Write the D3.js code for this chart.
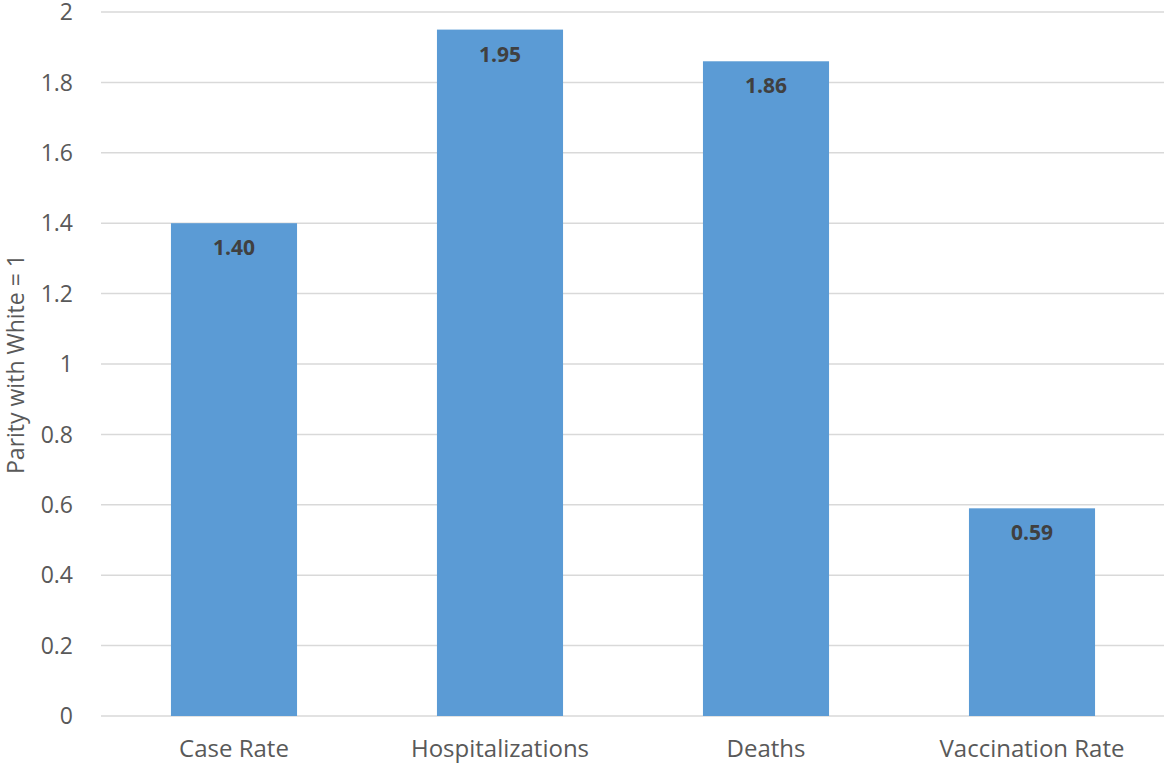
<!DOCTYPE html>
<html><head><meta charset="utf-8">
<script src="https://cdn.jsdelivr.net/npm/d3@7"></script>
<style>body{margin:0;background:#fff;} svg{display:block;}</style>
</head><body><svg id="c" width="1164" height="765"></svg>
<script>
const categories = ["Case Rate", "Hospitalizations", "Deaths", "Vaccination Rate"];
const values = [1.40, 1.95, 1.86, 0.59];
const yTicks = [0, 0.2, 0.4, 0.6, 0.8, 1, 1.2, 1.4, 1.6, 1.8, 2];
const yTitle = "Parity with White = 1";

const svg = d3.select("#c");
const font = "'Open Sans', 'Liberation Sans', sans-serif";
const x = d3.scaleBand().domain(categories).range([101, 1165]).paddingInner(0.526).paddingOuter(0.263);
const y = d3.scaleLinear().domain([0, 2]).range([716, 12]);

svg.append("g").selectAll("line").data(yTicks).join("line")
  .attr("x1", 101).attr("x2", 1164)
  .attr("y1", d => y(d)).attr("y2", d => y(d))
  .attr("stroke", "#d9d9d9").attr("stroke-width", 1.5);

svg.append("g").selectAll("text").data(yTicks).join("text")
  .attr("x", 73).attr("y", d => y(d)).attr("dy", "0.36em")
  .attr("text-anchor", "end").attr("font-family", font).attr("font-size", 23)
  .attr("fill", "#595959").text(d => d3.format("")(d));

svg.append("g").selectAll("rect").data(values).join("rect")
  .attr("x", (d, i) => x(categories[i])).attr("width", x.bandwidth())
  .attr("y", d => y(d)).attr("height", d => y(0) - y(d))
  .attr("fill", "#5b9bd5");

svg.append("g").selectAll("text").data(values).join("text")
  .attr("x", (d, i) => x(categories[i]) + x.bandwidth() / 2)
  .attr("y", d => y(d) + 32)
  .attr("text-anchor", "middle").attr("font-family", font).attr("font-size", 21).attr("font-weight", "bold")
  .attr("fill", "#404040").text(d => d.toFixed(2));

svg.append("g").selectAll("text").data(categories).join("text")
  .attr("x", d => x(d) + x.bandwidth() / 2).attr("y", 757)
  .attr("text-anchor", "middle").attr("font-family", font).attr("font-size", 24)
  .attr("fill", "#595959").text(d => d);

svg.append("text").attr("transform", "translate(24,364) rotate(-90)")
  .attr("text-anchor", "middle").attr("font-family", font).attr("font-size", 23)
  .attr("fill", "#595959").text(yTitle);
</script></body></html>
